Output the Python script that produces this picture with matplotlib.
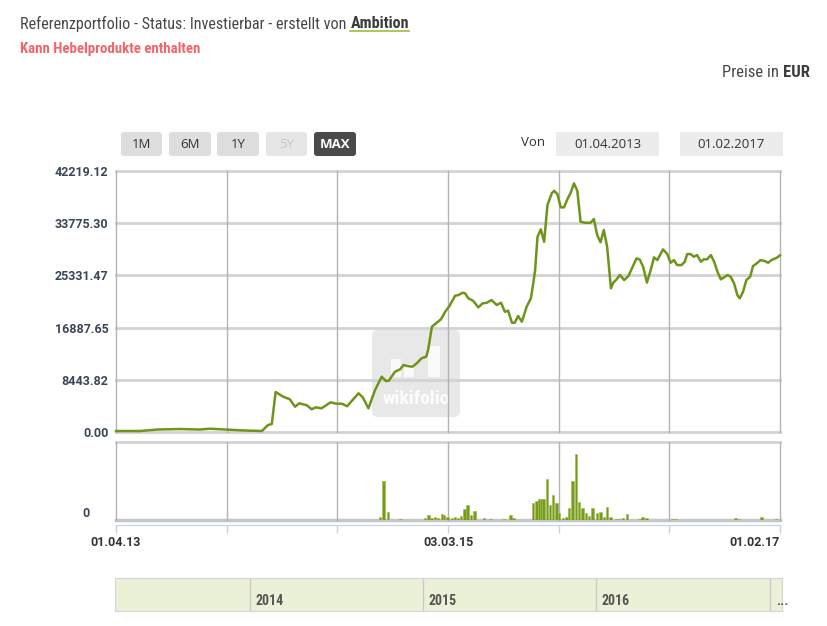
import numpy as np
import matplotlib
matplotlib.use("Agg")
from matplotlib import pyplot as plt
import matplotlib.dates as mdates
from matplotlib import font_manager
from matplotlib.patches import FancyBboxPatch
from matplotlib.lines import Line2D
from matplotlib.transforms import IdentityTransform

names = sorted({f.name for f in font_manager.fontManager.ttflist})
wanted = ['Roboto Condensed', 'Liberation Sans Narrow', 'DejaVu Sans Condensed',
          'Open Sans Condensed', 'Roboto']
cond = [n for n in wanted if n in names][0]
plt.rcParams['font.family'] = [cond, 'DejaVu Sans']
tick_font = ['Roboto', 'DejaVu Sans']

W, H = 827, 626

# Referenzportfolio: days since 01.04.2013 and index value
start = np.datetime64('2013-04-01')
end = np.datetime64('2017-02-01')
day_offsets = [0, 51, 87, 135, 177, 198, 230, 272, 308, 321, 329, 337, 353, 367, 378, 387,
               403, 413, 422, 434, 453, 465, 477, 488, 512, 521, 533, 547, 561, 570, 576,
               589, 600, 607, 616, 626, 635, 645, 655, 659, 667, 677, 686, 695, 704, 716,
               723, 732, 737, 744, 754, 765, 774, 783, 793, 804, 813, 821, 828, 836, 842,
               849, 857, 867, 876, 881, 885, 890, 897, 904, 911, 920, 925, 932, 939, 946,
               953, 960, 967, 974, 981, 990, 1002, 1009, 1016, 1023, 1030, 1037, 1045,
               1050, 1057, 1064, 1073, 1082, 1091, 1099, 1106, 1113, 1121, 1129, 1136,
               1143, 1155, 1164, 1171, 1178, 1185, 1194, 1201, 1206, 1213, 1220, 1227,
               1235, 1241, 1248, 1256, 1263, 1270, 1277, 1284, 1291, 1298, 1305, 1312,
               1317, 1324, 1331, 1339, 1345, 1353, 1361, 1370, 1377, 1384, 1395, 1402]
values = [160, 160, 400, 480, 400, 530, 400, 240, 160, 1130, 1290, 6470, 5710, 5290, 4090,
          4640, 4320, 3670, 3990, 3830, 4800, 4580, 4580, 4160, 6260, 5610, 3830, 6790,
          8940, 8250, 8300, 9750, 10140, 10830, 10670, 10560, 11110, 11920, 12180, 13260,
          17030, 17670, 18220, 19450, 20370, 22040, 22150, 22530, 22430, 21620, 21230,
          20160, 20810, 20910, 21340, 20540, 20910, 19450, 19620, 17680, 17680, 18760,
          17840, 20260, 21620, 24050, 26200, 31580, 32780, 30770, 36710, 38600, 39020,
          38490, 36340, 36340, 37630, 38700, 40220, 39020, 34010, 33850, 33850, 34440,
          31860, 30680, 32670, 29970, 23240, 24140, 24690, 25390, 24580, 25230, 26730,
          28090, 27890, 26730, 24170, 26200, 28250, 27810, 29540, 28780, 27380, 27810,
          27000, 27000, 27540, 28780, 28780, 28350, 28620, 27540, 27930, 27930, 28620,
          27540, 25920, 24690, 25020, 25390, 25110, 24050, 22150, 21620, 22690, 24580,
          25110, 26840, 27280, 27810, 27650, 27380, 27810, 28180, 28570]

# volume (relative units)
vol_offsets = [558, 565, 574, 601, 652, 660, 666, 673, 680, 688, 693, 700, 709, 716, 722,
               729, 736, 742, 750, 757, 777, 791, 819, 833, 839, 880, 888, 893, 898, 903,
               910, 916, 923, 930, 936, 944, 951, 957, 964, 971, 978, 985, 992, 999, 1006,
               1015, 1023, 1030, 1037, 1044, 1056, 1063, 1071, 1079, 1105, 1112, 1120,
               1126, 1175, 1182, 1308, 1315, 1363, 1394]
volumes = [2.7, 39.3, 8.3, 0.7, 1.7, 5.0, 1.7, 2.7, 2.3, 6.0, 5.0, 2.7, 1.7, 3.3, 1.7,
           4.0, 10.7, 15.0, 5.0, 9.0, 1.7, 1.0, 0.7, 5.0, 1.7, 17.3, 19.3, 20.7, 20.7,
           20.7, 40.7, 15.0, 25.0, 17.3, 7.3, 1.7, 2.7, 11.7, 39.3, 65.7, 18.3, 11.7,
           7.3, 4.0, 11.7, 7.3, 8.3, 3.3, 12.7, 3.3, 1.0, 1.0, 1.7, 6.0, 0.7, 3.3, 1.7,
           0.5, 0.7, 0.7, 1.7, 0.7, 2.7, 0.7]
vol_max = 78.3

y_ticks = [0.00, 8443.82, 16887.65, 25331.47, 33775.30, 42219.12]
x_labels = ['01.04.13', '', '', '03.03.15', '', '', '01.02.17']
range_buttons = ['1M', '6M', '1Y', '5Y', 'MAX']
date_from, date_to = '01.04.2013', '01.02.2017'
nav_years = ['2014-01-01', '2015-01-01', '2016-01-01', '2017-01-01']
nav_labels = ['2014', '2015', '2016', '...']

green = '#6e951b'
grid_h = '#d3d3d3'
grid_v = '#b3b3b3'
label_col = '#3a4656'


def fx(x):
    return x / W


def fy(y):
    return 1 - y / H


def rbox(x0, y0, x1, y1, color, r=3, **kw):
    p = FancyBboxPatch((x0, H - y1), x1 - x0, y1 - y0,
                       boxstyle='round,pad=0,rounding_size=%s' % r,
                       fc=color, ec='none', transform=IdentityTransform(), **kw)
    return p


fig = plt.figure(figsize=(W / 100, H / 100), dpi=100)
fig.patch.set_facecolor('white')

dates = start + np.array(day_offsets).astype('timedelta64[D]')
vdates = start + np.array(vol_offsets).astype('timedelta64[D]')
t0, t1 = mdates.date2num(start), mdates.date2num(end)
grid_x = np.linspace(t0, t1, 7)

# ---------------- main panel
ax = fig.add_axes([fx(116), fy(432), 664 / W, 261 / H])
for v in y_ticks:
    ax.axhline(v, color=grid_h, lw=2, zorder=1, clip_on=False)
for g in grid_x:
    ax.axvline(g, color=grid_v, lw=1, zorder=1, clip_on=False)

# wikifolio watermark
ax.add_patch(rbox(372, 330, 460, 417, '#e4e4e4', r=6, zorder=0.5, alpha=0.85))
for bx0, by0, bx1 in [(391, 359, 401), (404, 364, 414), (428, 346, 440)]:
    ax.add_patch(rbox(bx0, by0, bx1, 377, 'white', r=0, zorder=0.6, alpha=0.8))
ax.text(416, H - 399, 'wikifolio', color='white', fontsize=14, fontweight='bold',
        ha='center', va='center', alpha=0.9, zorder=0.7, transform=IdentityTransform())

ax.plot(mdates.date2num(dates), values, color=green, lw=1.8, zorder=3,
        solid_joinstyle='round', clip_on=False)
ax.set_xlim(t0, t1)
ax.set_ylim(0, y_ticks[-1])
ax.set_yticks(y_ticks)
ax.set_yticklabels(['%.2f' % v for v in y_ticks])
ax.tick_params(axis='y', length=0, pad=5.5, labelsize=9, labelcolor=label_col)
for lab in ax.get_yticklabels():
    lab.set_fontweight('bold')
    lab.set_family(tick_font)
ax.set_xticks([])
for s in ax.spines.values():
    s.set_visible(False)
ax.set_facecolor('none')

# ---------------- volume panel
ax2 = fig.add_axes([fx(116), fy(520), 664 / W, 78.3 / H])
ax2.axhline(vol_max, color=grid_h, lw=2, zorder=1, clip_on=False)
ax2.axhline(0, color='#c6c6c6', lw=2.5, zorder=1, clip_on=False)
for g in grid_x:
    ax2.axvline(g, color=grid_v, lw=1, zorder=1, clip_on=False)
ax2.bar(mdates.date2num(vdates), volumes, width=5, color='#779b1d',
        edgecolor='#9ab84a', linewidth=0.4, zorder=2)
ax2.set_xlim(t0, t1)
ax2.set_ylim(0, vol_max)
ax2.set_yticks([0])
ax2.set_yticklabels(['0'], va='bottom')
ax2.tick_params(axis='y', length=0, pad=19, labelsize=9, labelcolor=label_col)
ax2.get_yticklabels()[0].set_fontweight('bold')
ax2.get_yticklabels()[0].set_family(tick_font)
for s in ['top', 'left', 'right']:
    ax2.spines[s].set_visible(False)
ax2.spines['bottom'].set_position(('outward', 3.6))
ax2.spines['bottom'].set_color('#c3d3e6')
ax2.set_xticks(grid_x)
ax2.set_xticklabels(x_labels)
ax2.tick_params(axis='x', length=6, width=1, color='#c3d3e6', pad=2,
                labelsize=9, labelcolor='#333333')
xl = ax2.get_xticklabels()
for lab in xl:
    lab.set_fontweight('bold')
    lab.set_family(tick_font)
xl[-1].set_ha('right')
ax2.set_facecolor('none')

# ---------------- navigator
ax3 = fig.add_axes([fx(115), fy(611), 667 / W, 33 / H])
ax3.set_facecolor('#ebf1d6')
nav_lo = mdates.date2num(np.datetime64('2013-03-23'))
nav_hi = mdates.date2num(np.datetime64('2017-01-26'))
ax3.set_xlim(nav_lo, nav_hi)
ax3.set_ylim(0, 1)
for d, lab in zip(nav_years, nav_labels):
    xd = mdates.date2num(np.datetime64(d))
    ax3.axvline(xd, color='#c9c9c9', lw=1)
    ax3.annotate(lab, xy=(xd, 0.3), xycoords=('data', 'axes fraction'),
                 xytext=(4, 0), textcoords='offset points', va='center', ha='left',
                 fontsize=10, color='#555555', fontweight='bold')
ax3.set_xticks([])
ax3.set_yticks([])
for s in ax3.spines.values():
    s.set_color('#d6d6d6')

# ---------------- header texts
renderer = fig.canvas.get_renderer()
t1_txt = fig.text(fx(20), fy(28.5), 'Referenzportfolio - Status: Investierbar - erstellt von',
                  fontsize=11.6, color='#484848', va='baseline', ha='left')
bb = t1_txt.get_window_extent(renderer)
amb_x = bb.x1 + 4
t2_txt = fig.text(amb_x / W, fy(28.5), 'Ambition', fontsize=11.6, color='#3c3c3c',
                  fontweight='bold', va='baseline', ha='left')
bb2 = t2_txt.get_window_extent(renderer)
fig.add_artist(Line2D([bb2.x0, bb2.x1], [H - 30.5, H - 30.5], color='#9bbf3c', lw=1.2,
                      transform=IdentityTransform()))

fig.text(fx(20), fy(52.7), 'Kann Hebelprodukte enthalten', fontsize=10.7,
         color='#f0676a', fontweight='bold', va='baseline', ha='left')

eur = fig.text(fx(810), fy(77.3), 'EUR', fontsize=12, color='#3c3c3c',
               fontweight='bold', va='baseline', ha='right')
be = eur.get_window_extent(renderer)
fig.text((be.x0 - 4) / W, fy(77.3), 'Preise in', fontsize=12, color='#484848',
         va='baseline', ha='right')

# range buttons
btn_x = [(121, 162), (169, 211), (217, 259), (266, 307), (314, 356)]
ui_font = ['Open Sans', 'DejaVu Sans']
for (bx0, bx1), lab in zip(btn_x, range_buttons):
    if lab == 'MAX':
        fc, tc, fw = '#4a4a4a', 'white', 'bold'
    elif lab == '5Y':
        fc, tc, fw = '#e6e6e6', '#c8c8c8', 'normal'
    else:
        fc, tc, fw = '#dedede', '#333333', 'normal'
    fig.add_artist(rbox(bx0, 132, bx1, 156, fc, r=3))
    fig.text(fx((bx0 + bx1) / 2), fy(144), lab, family=ui_font, fontsize=9.5,
             color=tc, fontweight=fw, ha='center', va='center')

fig.text(fx(521), fy(143), 'Von', family=ui_font, fontsize=9.5, color='#333333',
         ha='left', va='center')
for (bx0, bx1), lab in zip([(556, 659), (680, 783)], [date_from, date_to]):
    fig.add_artist(rbox(bx0, 132, bx1, 156, '#ececec', r=0))
    fig.text(fx((bx0 + bx1) / 2), fy(144), lab, family=ui_font, fontsize=9.5,
             color='#333333', ha='center', va='center')

fig.savefig('out.png', dpi=100)
